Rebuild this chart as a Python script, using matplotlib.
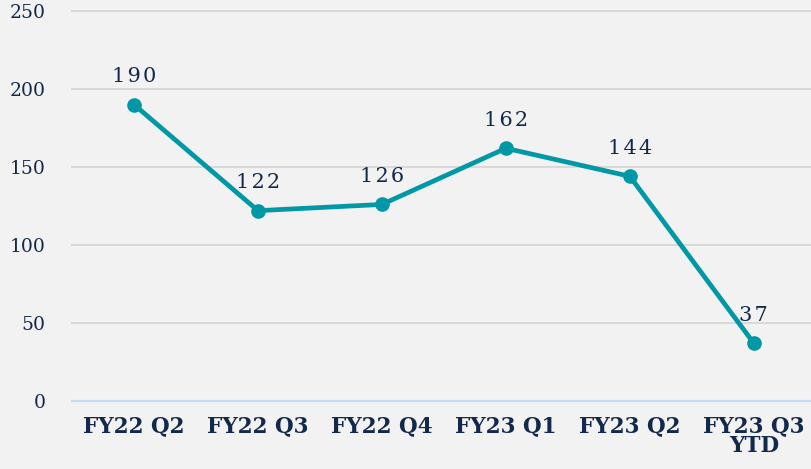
import matplotlib.pyplot as plt

# Data
quarters = ["FY22 Q2", "FY22 Q3", "FY22 Q4", "FY23 Q1", "FY23 Q2", "FY23 Q3\nYTD"]
values = [190, 122, 126, 162, 144, 37]
y_ticks = [0, 50, 100, 150, 200, 250]

BG = "#f2f2f2"
TEAL = "#0097a6"
NAVY = "#13294b"

fig = plt.figure(figsize=(8.12, 4.69), dpi=100, facecolor=BG)
ax = fig.add_axes([0.0887, 0.145, 0.916, 0.8316], facecolor=BG)

x = list(range(len(quarters)))
ax.plot(x, values, color=TEAL, linewidth=3.4, marker="o", markersize=9.5, zorder=3)

# data labels
for xi, v in zip(x, values):
    ax.annotate("\u200a".join(str(v)), (xi, v), xytext=(0, 28), textcoords="offset pixels",
                ha="center", va="center", fontsize=15, color=NAVY,
                family="DejaVu Serif")

ax.set_xlim(-0.5, 5.5)
ax.set_ylim(0, 250)
ax.set_yticks(y_ticks)
ax.set_xticks(x)
ax.set_xticklabels(quarters, fontsize=15.5, fontweight="bold", color=NAVY,
                   family="DejaVu Serif", linespacing=0.9)
ax.set_yticklabels([str(t) for t in y_ticks], fontsize=13.5, color=NAVY,
                   family="DejaVu Serif")
ax.tick_params(length=0)
ax.tick_params(axis="x", pad=10)
ax.tick_params(axis="y", pad=19)

# gridlines
for t in y_ticks[1:]:
    ax.axhline(t, color="#d9d9d9", linewidth=1.4, zorder=1, clip_on=False)
ax.axhline(0, color="#c6dcf2", linewidth=1.6, zorder=1, clip_on=False)

for s in ax.spines.values():
    s.set_visible(False)

fig.savefig("out.png", dpi=100, facecolor=BG)
